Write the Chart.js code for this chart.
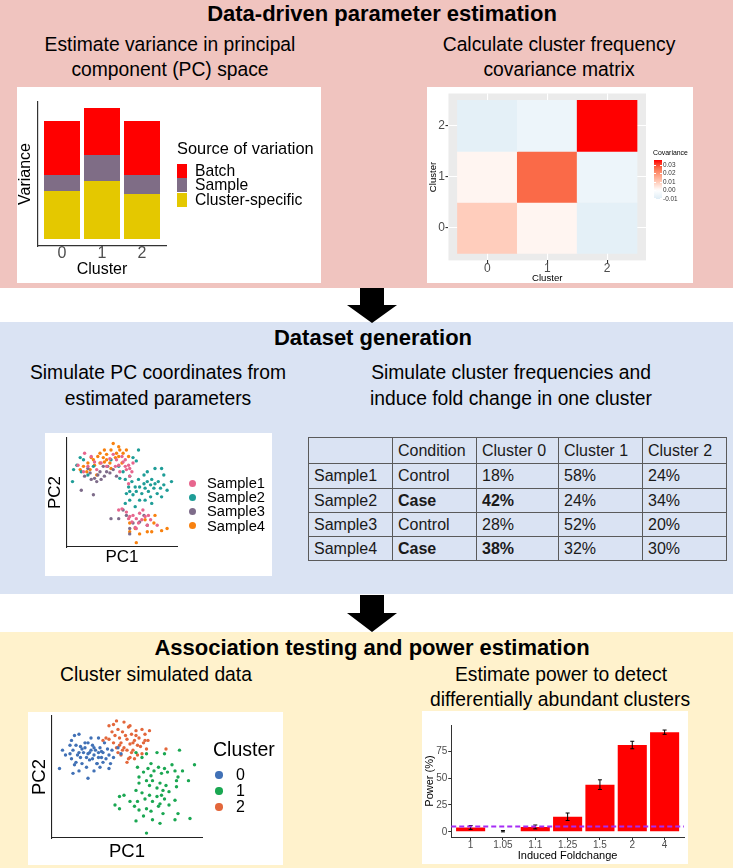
<!DOCTYPE html>
<html>
<head>
<meta charset="utf-8">
<title>Simulation and power analysis overview</title>
<script src="https://cdn.jsdelivr.net/npm/chart.js@4.4.1/dist/chart.umd.min.js"></script>
<style>
  body { margin:0; width:733px; height:868px; position:relative; overflow:hidden; background:#fff;
         font-family:"Liberation Sans", Arial, sans-serif; color:#000; }
  .band { position:absolute; left:0; width:733px; }
  .txt { position:absolute; white-space:nowrap; line-height:1; transform:translate(-50%,-50%); }
  .head { font-weight:bold; font-size:22px; }
  .sub { font-size:19.3px; }
  canvas { position:absolute; background:#fff; }
  .arrow { position:absolute; left:347px; }
  .lg { position:absolute; white-space:nowrap; line-height:1; transform:translateY(-50%); }
  #tbl { position:absolute; left:308px; top:437px; border-collapse:collapse; table-layout:fixed; font-size:16px; color:#1a1a1a; }
  #tbl td { border:1px solid #5a5a5a; padding:0 0 0 5px; white-space:nowrap; overflow:hidden; }
</style>
</head>
<body>
<div class="band" style="top:0;height:288px;background:#F0C4BF"></div>
<div class="band" style="top:322px;height:272px;background:#DAE3F3"></div>
<div class="band" style="top:632px;height:236px;background:#FFF2CC"></div>

<svg class="arrow" style="top:288px" width="50" height="35" viewBox="0 0 50 35"><polygon points="13,0 37,0 37,17 50,17 25,35 0,17 13,17" fill="#000"/></svg>
<svg class="arrow" style="top:595px" width="50" height="37" viewBox="0 0 50 37"><polygon points="13,0 37,0 37,18 50,18 25,37 0,18 13,18" fill="#000"/></svg>

<div class="txt head" style="left:382px;top:14px">Data-driven parameter estimation</div>
<div class="txt sub" style="left:170px;top:45px">Estimate variance in principal</div>
<div class="txt sub" style="left:170px;top:70px">component (PC) space</div>
<div class="txt sub" style="left:559px;top:45px">Calculate cluster frequency</div>
<div class="txt sub" style="left:559px;top:70px">covariance matrix</div>

<div class="txt head" style="left:373px;top:338px">Dataset generation</div>
<div class="txt sub" style="left:158px;top:373px">Simulate PC coordinates from</div>
<div class="txt sub" style="left:158px;top:399px">estimated parameters</div>
<div class="txt sub" style="left:511px;top:373px">Simulate cluster frequencies and</div>
<div class="txt sub" style="left:511px;top:399px">induce fold change in one cluster</div>

<div class="txt head" style="left:372px;top:648px">Association testing and power estimation</div>
<div class="txt sub" style="left:156px;top:675px">Cluster simulated data</div>
<div class="txt sub" style="left:561px;top:675px">Estimate power to detect</div>
<div class="txt sub" style="left:560px;top:700px">differentially abundant clusters</div>

<canvas id="cVar" width="304" height="196" style="left:17px;top:87px"></canvas>
<canvas id="cCov" width="266" height="196" style="left:427px;top:87px"></canvas>
<canvas id="cSim" width="227" height="143" style="left:45px;top:433px"></canvas>
<canvas id="cClu" width="255" height="153" style="left:28px;top:712px"></canvas>
<canvas id="cPow" width="266" height="153" style="left:422px;top:711px"></canvas>
<table id="tbl"></table>

<script>
// ---- variance components (stacked bars, arbitrary units) ----
const clusters = ['0', '1', '2'];
const varSources = ['Cluster-specific', 'Sample', 'Batch'];
const varClusterSpecific = [48, 58, 45];
const varSample = [16, 26, 19];
const varBatch = [54, 47, 54];
const varColors = ['#E4C800', '#7F6D86', '#FF0000'];

// ---- cluster frequency covariance ----
const covariance = [
  [0.0095, 0.002, -0.009],
  [0.002, 0.027, -0.006],
  [-0.009, -0.006, 0.036]
];
const covTicks = [0.03, 0.02, 0.01, 0.00, -0.01];

// ---- simulated PC coordinates per sample ----
const sampleNames = ['Sample1', 'Sample2', 'Sample3', 'Sample4'];
const sampleColors = ['#E7668E', '#1E9D97', '#7E6C8A', '#F8810F'];
const sample1Pts = [[16,86],[22,83],[25,78],[31,77],[39,81],[44,74],[47,75],[51,78],[53,74],[54,71],[56,75],[57,72],[59,69],[50,83],[42,85],[36,74],[27,71],[19,74],[15,69],[10,75],[48,69],[53,80],[60,77],[45,80],[57,65],[56,58],
  [50,35],[54,32],[57,28],[60,29],[63,26],[66,31],[68,25],[71,28],[73,20],[65,22],[62,18],[76,25],[59,23],[56,26],[69,34],[74,29],[63,17],[82,20],[47,34]];
const sample2Pts = [[6,71],[9,75],[13,69],[5,60],[19,66],[15,80],[24,74],[12,82],[47,74],[51,69],[57,65],[60,82],[63,79],[65,89],[40,80],
  [48,63],[53,62],[56,55],[57,51],[59,60],[62,55],[63,51],[65,62],[66,55],[68,49],[70,58],[71,54],[73,60],[74,51],[76,57],[77,62],[79,54],[80,58],[82,49],[83,60],[85,54],[88,57],[91,52],[95,60],[86,46],[76,46],[66,43],[57,43],[60,48],[54,49],[73,69],[80,72],[86,72],[88,66],[70,66],[71,43],[77,40],[62,37],[53,40]];
const sample3Pts = [[16,65],[21,68],[25,63],[28,66],[31,62],[34,65],[27,60],[30,69],[22,62],[39,68],[42,71],[36,69],[19,72],[13,52],[24,48],[37,74],[45,65],[33,74],
  [40,26],[47,26],[51,34],[57,17],[70,29],[73,20],[57,12],[60,22],[66,23],[54,29]];
const sample4Pts = [[42,95],[47,92],[48,89],[45,86],[40,89],[36,85],[33,82],[28,83],[24,80],[19,77],[21,71],[25,75],[30,77],[34,78],[39,77],[44,82],[47,83],[51,86],[54,89],[56,83],[18,69],[15,74],[12,71],[27,66],[36,80],[40,72],[22,82],[30,86],[34,89],[50,77],
  [57,22],[62,17],[66,12],[73,14],[71,25],[79,22],[86,15],[91,17],[57,14],[63,4],[77,14],[80,29]];

// ---- table of simulated cluster frequencies ----
const tableHeader = ['', 'Condition', 'Cluster 0', 'Cluster 1', 'Cluster 2'];
const conditions = ['Control', 'Case', 'Control', 'Case'];
const freqCluster0 = ['18%', '42%', '28%', '38%'];
const freqCluster1 = ['58%', '24%', '52%', '32%'];
const freqCluster2 = ['24%', '34%', '20%', '30%'];

// ---- clustered simulated data ----
const clusterColors = ['#4171B6', '#1AA752', '#E3673B'];
const cluster0Pts = [[5,57],[7,72],[9,68],[12,69],[13,65],[14,72],[13,80],[15,84],[18,85],[16,76],[18,70],[19,66],[20,73],[22,78],[24,69],[25,64],[26,72],[27,76],[28,68],[30,61],[31,70],[32,74],[33,66],[34,70],[35,78],[37,73],[38,68],[39,61],[40,72],[41,66],[44,74],[46,69],[23,58],[32,58],[14,53],[24,49],[20,61],[28,55],[16,62],[26,82],[31,82],[12,76],[38,57],[18,55],[34,62],[22,74],[27,65],[24,78],[15,60],[30,61],[21,70],[29,72],[36,65],[25,70],[19,75],[33,71],[23,66],[28,74],[17,68],[31,66]];
const cluster1Pts = [[56,70],[60,66],[63,69],[70,70],[75,69],[85,72],[95,60],[57,58],[61,54],[64,57],[66,61],[68,55],[71,58],[73,53],[75,57],[77,54],[80,60],[82,55],[84,50],[87,55],[91,47],[58,50],[63,47],[65,43],[67,47],[70,41],[72,45],[74,39],[76,43],[78,38],[83,42],[56,39],[60,37],[62,32],[65,35],[67,30],[70,34],[72,28],[75,32],[78,27],[82,31],[48,35],[45,34],[52,30],[55,26],[58,23],[63,24],[66,22],[71,26],[74,20],[42,27],[45,24],[56,14],[61,18],[67,15],[72,12],[82,15],[92,16],[84,20],[63,4],[57,30],[73,35],[66,51],[58,45],[83,47]];
const cluster2Pts = [[38,92],[43,96],[40,87],[42,84],[44,89],[45,82],[46,78],[47,87],[48,74],[50,81],[51,91],[52,77],[53,85],[54,72],[55,80],[56,88],[57,76],[58,82],[60,69],[61,78],[62,85],[63,73],[64,80],[65,88],[46,68],[51,65],[52,66],[47,72],[41,78],[43,74],[38,81],[36,82],[34,80],[52,92],[48,95],[55,65],[60,89],[44,70],[53,70],[57,68],[76,73],[50,62],[41,93],[49,84],[54,78],[59,75],[45,76],[56,84],[50,72],[62,80]];

// ---- power estimates ----
const foldChanges = ['1', '1.05', '1.1', '1.25', '1.5', '2', '4'];
const powerPct = [4, 0.5, 4.5, 14, 44, 81, 93];
const powerErr = [1.8, 0.6, 1.8, 3.5, 4.5, 3.5, 2];
const powerTicks = [0, 25, 50, 75];
const alphaLevel = 5;

Chart.defaults.font.family = "'Liberation Sans', Arial, sans-serif";
Chart.defaults.color = '#4D4D4D';
Chart.defaults.animation = false;
Chart.defaults.responsive = false;
Chart.defaults.events = [];
Chart.defaults.plugins.legend.display = false;
Chart.defaults.plugins.tooltip.enabled = false;

const axisTitle = (text, size, padding) => ({ display: true, text, color: '#000', font: { size, lineHeight: 1 }, padding });
const noGrid = { display: false, drawTicks: false, offset: false };

function addText(text, x, y, size, extra) {
  const d = document.createElement('div');
  d.className = 'lg';
  d.textContent = text;
  Object.assign(d.style, { left: x + 'px', top: y + 'px', fontSize: size + 'px' }, extra || {});
  document.body.appendChild(d);
}
function addBox(x, y, w, h, bg, radius) {
  const d = document.createElement('div');
  Object.assign(d.style, { position: 'absolute', left: x + 'px', top: y + 'px', width: w + 'px', height: h + 'px', background: bg, borderRadius: radius || 0 });
  document.body.appendChild(d);
}

// ===== panel 1: variance stacked bars =====
new Chart(document.getElementById('cVar'), {
  type: 'bar',
  data: {
    datasets: [varClusterSpecific, varSample, varBatch].map((vals, k) => ({
      label: varSources[k],
      data: vals.map((v, i) => ({ x: Number(clusters[i]), y: v })),
      backgroundColor: varColors[k],
      stack: 'v',
      barPercentage: 0.9,
      categoryPercentage: 1
    }))
  },
  options: {
    layout: { padding: { left: 1, top: 15, right: 155, bottom: 5 } },
    scales: {
      x: {
        type: 'linear', min: -0.6, max: 2.6, offset: false,
        afterBuildTicks: s => { s.ticks = clusters.map(c => ({ value: Number(c) })); },
        grid: noGrid,
        border: { color: '#333', width: 1.2 },
        ticks: { font: { size: 16, lineHeight: 1 }, padding: 0 },
        title: axisTitle('Cluster', 16, 0)
      },
      y: {
        stacked: true, min: -7, max: 137,
        grid: noGrid,
        border: { color: '#333', width: 1.2 },
        ticks: { display: false },
        title: axisTitle('Variance', 16, { top: 0, bottom: 4 })
      }
    }
  }
});
addText('Source of variation', 177, 148, 16.4);
varSources.slice().reverse().forEach((name, k) => {
  const color = varColors[varSources.length - 1 - k];
  addBox(177, 163.5 + k * 14.5, 10, 14, color);
  addText(name, 195, 170.5 + k * 14.5, 15.7);
});

// ===== panel 2: covariance heatmap =====
const covMin = -0.0105, covMax = 0.036;
const covLow = [223, 237, 246];
const covStops = [[0, [255, 255, 255]], [0.25, [255, 208, 191]], [0.5, [255, 160, 130]], [0.75, [250, 106, 72]], [1, [255, 0, 0]]];
function mix(a, b, t) { return a.map((c, i) => Math.round(c + (b[i] - c) * t)); }
function covColor(v) {
  let rgb;
  if (v < 0) {
    rgb = mix([255, 255, 255], covLow, Math.min(1, v / covMin));
  } else {
    const t = Math.min(1, v / covMax);
    let k = 1;
    while (k < covStops.length - 1 && covStops[k][0] < t) k++;
    const [t0, c0] = covStops[k - 1], [t1, c1] = covStops[k];
    rgb = mix(c0, c1, (t - t0) / (t1 - t0));
  }
  return 'rgb(' + rgb.join(',') + ')';
}
const covCells = [];
covariance.forEach((row, r) => row.forEach((v, c) => covCells.push({ x: c, y: [r - 0.5, r + 0.5], v })));

const panelBg = {
  id: 'panelBg',
  beforeDraw(chart) {
    const { ctx, chartArea: a } = chart;
    ctx.save();
    ctx.fillStyle = '#EBEBEB';
    ctx.fillRect(a.left, a.top, a.right - a.left, a.bottom - a.top);
    ctx.restore();
  }
};
const covAxis = (min, max, title, titlePad, tickPad) => ({
  type: 'linear', min, max, offset: false,
  afterBuildTicks: s => { s.ticks = clusters.map(c => ({ value: Number(c) })); },
  grid: { color: '#fff', lineWidth: 1.1, tickColor: '#333', tickLength: 3, offset: false },
  border: { display: false },
  ticks: { font: { size: 12, lineHeight: 1 }, padding: tickPad },
  title: axisTitle(title, 9.6, titlePad)
});
new Chart(document.getElementById('cCov'), {
  type: 'bar',
  data: { datasets: [{ data: covCells, backgroundColor: ctx => covColor(ctx.raw.v), barPercentage: 1, categoryPercentage: 1, borderWidth: 0 }] },
  options: {
    layout: { padding: { left: 0, top: 3, right: 47, bottom: 0 } },
    scales: {
      x: covAxis(-0.65, 2.65, 'Cluster', 0, -1),
      y: covAxis(-0.635, 2.635, 'Cluster', { top: 1.2, bottom: 0 }, 0.5)
    }
  },
  plugins: [panelBg]
});
// colour bar legend
(function () {
  const top = 160, h = 39, left = 654;
  const stops = [];
  for (let i = 0; i <= 20; i++) {
    const v = covMin + (covMax - covMin) * i / 20;
    stops.push(covColor(v) + ' ' + (i * 5) + '%');
  }
  addBox(left, top, 8, h, 'linear-gradient(to top,' + stops.join(',') + ')');
  addText('Covariance', 653, 153, 6.9);
  covTicks.forEach(t => {
    const y = top + h - (t - covMin) / (covMax - covMin) * h;
    addBox(left, y - 0.25, 1.6, 0.5, '#fff');
    addBox(left + 6.4, y - 0.25, 1.6, 0.5, '#fff');
    addText(t.toFixed(2), 663, y, 6.4, { color: '#333' });
  });
})();

// ===== scatter helpers =====
const scatterAxis = (title, size, pad) => ({
  type: 'linear', min: 0, max: 100,
  grid: noGrid,
  border: { color: '#222', width: 1.1 },
  ticks: { display: false },
  title: axisTitle(title, size, pad)
});
const toXY = pts => pts.map(p => ({ x: p[0], y: p[1] }));

// ===== panel 3: simulated samples =====
new Chart(document.getElementById('cSim'), {
  type: 'scatter',
  data: {
    datasets: [sample1Pts, sample2Pts, sample3Pts, sample4Pts].map((pts, k) => ({
      label: sampleNames[k], data: toXY(pts), backgroundColor: sampleColors[k], borderWidth: 0, pointRadius: 1.7
    }))
  },
  options: {
    layout: { padding: { left: 0, top: 5, right: 95, bottom: 10.5 } },
    scales: {
      x: scatterAxis('PC1', 17, { top: 1.5, bottom: 0 }),
      y: scatterAxis('PC2', 17, { top: 1.5, bottom: 3.5 })
    }
  }
});
sampleNames.forEach((name, k) => {
  addBox(188.5, 479.5 + k * 14.2, 7, 7, sampleColors[k], '50%');
  addText(name, 207, 483 + k * 14.2, 14.7);
});

// ===== table =====
(function () {
  const tbl = document.getElementById('tbl');
  const widths = [84, 84, 82, 84, 84];
  const cg = document.createElement('colgroup');
  widths.forEach(w => { const c = document.createElement('col'); c.style.width = w + 'px'; cg.appendChild(c); });
  tbl.appendChild(cg);
  const rows = [tableHeader].concat(sampleNames.map((s, i) => [s, conditions[i], freqCluster0[i], freqCluster1[i], freqCluster2[i]]));
  const heights = [26, 25, 24, 24, 24];
  rows.forEach((cells, r) => {
    const tr = document.createElement('tr');
    tr.style.height = heights[r] + 'px';
    cells.forEach((txt, c) => {
      const td = document.createElement('td');
      td.textContent = txt;
      if (r > 0 && conditions[r - 1] === 'Case' && (c === 1 || c === 2)) td.style.fontWeight = 'bold';
      tr.appendChild(td);
    });
    tbl.appendChild(tr);
  });
})();

// ===== panel 5: clusters =====
new Chart(document.getElementById('cClu'), {
  type: 'scatter',
  data: {
    datasets: [cluster0Pts, cluster1Pts, cluster2Pts].map((pts, k) => ({
      label: clusters[k], data: toXY(pts), backgroundColor: clusterColors[k], borderWidth: 0, pointRadius: 1.7
    }))
  },
  options: {
    layout: { padding: { left: 0, top: 3, right: 81, bottom: 3.75 } },
    scales: {
      x: scatterAxis('PC1', 18.5, { top: 4.75, bottom: 0 }),
      y: scatterAxis('PC2', 18.5, { top: 2.75, bottom: 2.75 })
    }
  }
});
addText('Cluster', 213, 750, 19.5);
clusters.forEach((name, k) => {
  addBox(215.3, 771.3 + k * 16, 7.4, 7.4, clusterColors[k], '50%');
  addText(name, 236, 775 + k * 16, 16);
});

// ===== panel 6: power =====
const powerExtras = {
  id: 'powerExtras',
  afterDatasetsDraw(chart) {
    const { ctx, chartArea: a, scales: { y } } = chart;
    const meta = chart.getDatasetMeta(0);
    ctx.save();
    ctx.strokeStyle = '#000';
    ctx.lineWidth = 1;
    meta.data.forEach((bar, i) => {
      const hi = y.getPixelForValue(powerPct[i] + powerErr[i]);
      const lo = y.getPixelForValue(powerPct[i] - powerErr[i]);
      ctx.beginPath();
      ctx.moveTo(bar.x, hi); ctx.lineTo(bar.x, lo);
      ctx.moveTo(bar.x - 2, hi); ctx.lineTo(bar.x + 2, hi);
      ctx.moveTo(bar.x - 2, lo); ctx.lineTo(bar.x + 2, lo);
      ctx.stroke();
    });
    const yy = y.getPixelForValue(alphaLevel);
    ctx.strokeStyle = '#A62CF5';
    ctx.lineWidth = 2;
    ctx.setLineDash([5, 3]);
    ctx.beginPath();
    ctx.moveTo(a.left, yy); ctx.lineTo(a.right, yy);
    ctx.stroke();
    ctx.restore();
  }
};
const tickOnly = { display: true, drawOnChartArea: false, tickColor: '#333', tickLength: 3, offset: false };
new Chart(document.getElementById('cPow'), {
  type: 'bar',
  data: {
    datasets: [{
      data: powerPct.map((v, i) => ({ x: i + 1, y: v })),
      backgroundColor: '#FF0000', barPercentage: 0.9, categoryPercentage: 1
    }]
  },
  options: {
    layout: { padding: { left: 0, top: 14, right: 4, bottom: 3 } },
    scales: {
      x: {
        type: 'linear', min: 0.4, max: 7.6, offset: false,
        afterBuildTicks: s => { s.ticks = foldChanges.map((f, i) => ({ value: i + 1 })); },
        grid: tickOnly,
        border: { color: '#333', width: 1 },
        ticks: { font: { size: 10, lineHeight: 1 }, padding: 0, callback: v => foldChanges[v - 1] },
        title: axisTitle('Induced Foldchange', 11, 0)
      },
      y: {
        min: -4.9, max: 99.7,
        afterBuildTicks: s => { s.ticks = powerTicks.map(v => ({ value: v })); },
        grid: tickOnly,
        border: { color: '#333', width: 1 },
        ticks: { font: { size: 10, lineHeight: 1 }, padding: 0.8 },
        title: axisTitle('Power (%)', 11, { top: 2.5, bottom: 0 })
      }
    }
  },
  plugins: [powerExtras]
});
</script>
</body>
</html>
